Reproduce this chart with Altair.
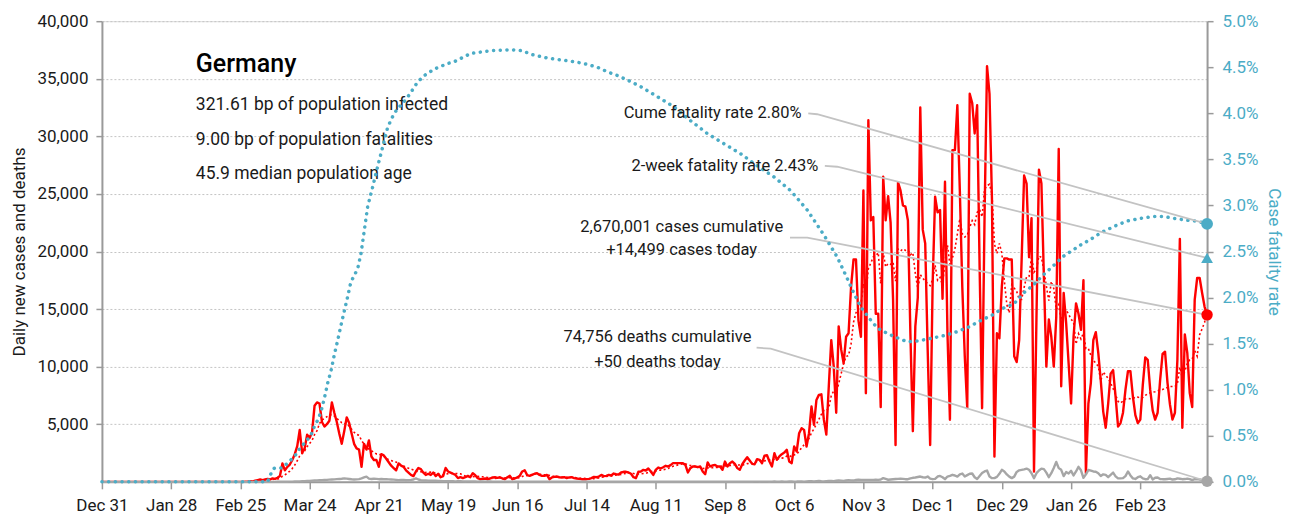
import altair as alt
import pandas as pd

START = pd.Timestamp("2019-12-31")
END = pd.Timestamp("2021-03-22")

# ---- daily new cases, one value per day from Dec 31 2019 ----
cases = [
    0, 0, 0, 0, 0, 0, 0, 0, 0, 0, 0, 0, 0, 0, 0, 0, 0, 0, 0, 0,
    0, 0, 0, 0, 0, 0, 0, 0, 0, 0, 0, 0, 0, 0, 0, 0, 0, 0, 0, 0,
    0, 0, 0, 0, 0, 0, 0, 0, 0, 0, 0, 0, 0, 0, 0, 0,
    0, 0, 20, 30, 50, 40, 100, 150, 200, 150,
    200, 250, 200, 300, 250, 350, 500, 1600, 1000, 1300,
    1500, 1900, 2400, 3100, 4500, 2500, 2900, 4100, 3800, 4300,
    6600, 6900, 6800, 5200, 4800, 5000, 5300, 6900, 6000, 5200,
    4200, 3300, 4400, 5600, 5100, 4200, 3300, 2900, 2800, 1300,
    3300, 2800, 3600, 2200, 1900, 1900, 1300, 2400, 2300, 2000,
    1700, 1400, 1200, 1000, 1600, 1400, 1300, 1000, 800, 600,
    500, 900, 1200, 1100, 800, 600, 700, 600, 800, 500,
    700, 400, 500, 1200, 900,
    800, 700, 600, 320, 400, 320, 400, 520, 400, 750,
    580, 320, 230, 260, 290, 230, 290, 380, 400, 350,
    400, 290, 230, 400, 520, 230, 290, 380, 520, 900,
    1000, 580, 520, 600, 700, 750, 600, 520, 520, 600,
    230, 380, 430, 460, 400, 380, 400, 320, 380, 400,
    320, 290, 260, 230, 230, 230, 260, 320, 430, 400,
    460, 600, 490, 520, 600, 550, 720, 660, 640, 810,
    870, 870, 810, 700, 400, 320, 870, 900, 1040, 980,
    1160, 900, 600, 1040, 1240, 1160, 1270, 1390, 1330, 1450,
    1620, 1620, 1620, 1620, 1620, 1470, 810, 1190, 1330, 1330,
    1270, 1330, 900, 660, 1680, 1330, 1420, 1470, 1330, 1330,
    1040, 1760, 1330, 1620, 1760, 1560, 1190, 1040, 1530, 1850,
    2140, 1850, 1560, 1530, 1970, 1910, 1620, 2280, 2310, 1760,
    1330, 2490, 1910, 2200, 2400, 2540, 2780, 1760, 1620, 3070,
    2630, 4220, 4660, 4510, 3070, 4220, 6540, 4950, 7110, 7550,
    7600, 5400, 4100, 8300, 12300, 10000, 6000, 13500, 11500, 10300,
    12600, 12900, 16900, 19300, 19300, 14000, 12600, 25300, 7700, 31400,
    22700, 23000, 14600, 14600, 6500, 26500, 22700, 24800, 22500, 15800,
    3200, 26000, 25300, 24000, 23900, 22700, 12900, 4400, 13500, 16000,
    32500, 21900, 20700, 11450, 3200, 17200, 24750, 23400, 23600, 15900,
    26060, 12900, 5400, 28800, 28800, 32700, 25300, 16900, 10900, 6400,
    33700, 32900, 30250, 32700, 18700, 6400, 23000, 36100, 33700, 24500,
    2200, 12900, 12460, 17000, 19400, 19400, 19300, 19300, 10900, 10400,
    12300, 19300, 26600, 25900, 19500, 22900, 900, 14300, 27100, 25900,
    17800, 10000, 14100, 12600, 10000, 14300, 28900, 8300, 16400, 13800,
    10300, 6800, 12600, 15500, 14600, 13200, 17500, 750, 6800, 8600,
    12300, 13000, 11200, 8800, 6100, 4700, 6800, 9400, 9700, 7400,
    4800, 5100, 6000, 8000, 9600, 9600, 7400, 5800, 5100, 5400,
    8400, 10800, 10600, 8000, 6200, 5400, 6000, 8800, 11100, 11300,
    8600, 6700, 5400, 6000, 10600, 21100, 4700, 12800, 11200, 7700,
    6500, 15800, 17700, 17700, 16400, 15200, 14499,
]

# ---- daily deaths ----
deaths = [
    0, 0, 0, 0, 0, 0, 0, 0, 0, 0, 0, 0, 0, 0, 0, 0, 0, 0, 0, 0,
    0, 0, 0, 0, 0, 0, 0, 0, 0, 0, 0, 0, 0, 0, 0, 0, 0, 0, 0, 0,
    0, 0, 0, 0, 0, 0, 0, 0, 0, 0, 0, 0, 0, 0, 0, 0, 0, 0, 0, 0,
    0, 0, 0, 0, 0, 0, 0, 0, 0, 0,
    0, 2, 3, 5, 8, 10, 15, 20, 25, 30,
    40, 50, 60, 70, 80, 100, 120, 130, 140, 150,
    160, 170, 190, 200, 210, 230, 250, 270, 300, 280,
    250, 220, 200, 210, 230, 300, 380, 450, 280, 250,
    270, 260, 230, 240, 220, 230, 210, 200, 190, 170,
    150, 160, 170, 140, 150, 170, 200, 300, 200, 140,
    120, 110, 100, 90, 100, 90, 80, 70, 60, 60,
    55,
    50, 45, 40, 60, 50, 40, 30, 35, 40, 30, 25, 20, 30, 25,
    20, 25, 30, 20, 15, 20, 15, 15, 20, 15, 10, 12, 15, 10,
    10, 12, 8, 10, 12, 8, 6, 8, 10, 6, 5, 8, 6, 5,
    6, 8, 5, 4, 6, 5, 4, 5, 6, 4, 3, 5, 4, 3,
    4, 6, 5, 3, 4, 5, 3, 4, 5, 6, 3, 4, 6, 5,
    5, 7, 4, 3, 6, 5, 4, 6, 8, 5, 4, 7, 6, 4,
    5, 8, 6, 4, 7, 9, 5, 6, 9, 7, 4, 8, 10, 6,
    8, 10, 7, 5, 9, 11, 7, 9, 12, 8, 6, 10, 13, 8,
    10, 14, 9, 7, 12, 15, 10, 12, 16, 11, 8, 14, 18, 12,
    15, 20, 14, 10, 18, 24, 16, 20, 28, 18, 14, 25, 32, 22,
    28, 40, 30, 20, 35, 50, 45, 38, 55, 70, 50, 40, 65, 85,
    75, 60, 90, 120, 100, 80, 115, 150, 130, 110, 160, 190, 170,
    170, 170, 170, 170, 170, 180, 170, 200, 320, 250,
    180, 200, 220, 240, 260, 280, 260, 230, 230, 300,
    350, 380, 420, 460, 400, 370, 460, 280, 230, 260,
    460, 510, 400, 230, 460, 520, 610, 550, 450, 650,
    720, 460, 580, 700, 720, 400, 250, 500, 760, 900,
    980, 460, 320, 320, 430, 700, 1040, 900, 640, 450,
    320, 450, 860, 1000, 1040, 1080, 1150, 1050, 750, 320,
    750, 980, 1150, 1100, 800, 400, 750, 1200, 1730, 1190,
    1040, 500, 850, 720, 950, 550, 900, 1300, 1000, 350,
    650, 1040, 980, 900, 880, 750, 500, 650, 600, 400,
    600, 800, 480, 300, 300, 320, 500, 900, 550, 300,
    250, 400, 480, 300, 230, 240, 580, 200, 350, 380,
    250, 230, 220, 250, 280, 200, 220, 300, 270, 230,
    240, 280, 240, 150, 230, 230, 200, 170, 120, 50,
]

# ---- case fatality rate (day offset, percent) ----
cfr_day = [
    0, 67, 68.7, 69.8, 72.5, 73.8, 75.2, 76.5, 77.8, 79.2,
    80.5, 81.9, 83.2, 84.6, 85.9, 87.3, 88.6, 90, 91.3, 92.7,
    94, 95.4, 96.7, 98, 99.4, 100.7, 102.1, 103.5, 104.8, 107.5,
    109.5, 111.5, 113.6, 115.6, 118.2, 120.3, 123, 125, 127.7, 130.4,
    134.4, 139.8, 142.5, 149.2, 157.3, 165.4, 170.1, 173.5, 180.2, 185.6,
    191, 195, 200.4, 204.5, 208.5, 212.6, 217.9, 224.7, 231.4, 238.1,
    244.9, 251.6, 258.4, 265.1, 271.8, 278.6, 285.3, 292, 297.4, 299.5,
    302.1, 304.1, 306.9, 310.2, 313.6, 317, 321, 325.7, 330.4, 335.8,
    341.2, 345.9, 350.6, 355.4, 360.1, 364.1, 368.8, 372.8, 376.9, 380.9,
    385, 389, 395.8, 399.8, 403.8, 409.2, 414.6, 420, 425.4, 429.4,
    433.5, 438.9, 442.9, 447,
]
cfr_pct = [
    0, 0, 0.11, 0.15, 0.15, 0.18, 0.20, 0.24, 0.27, 0.33,
    0.38, 0.42, 0.46, 0.51, 0.60, 0.67, 0.76, 0.91, 1.07, 1.21,
    1.38, 1.54, 1.70, 1.85, 2.01, 2.17, 2.24, 2.32, 2.48, 2.99,
    3.20, 3.42, 3.64, 3.85, 4.00, 4.07, 4.15, 4.23, 4.34, 4.41,
    4.48, 4.54, 4.56, 4.65, 4.68, 4.69, 4.68, 4.64, 4.60, 4.58,
    4.56, 4.54, 4.50, 4.45, 4.41, 4.36, 4.29, 4.18, 4.07, 3.92,
    3.78, 3.67, 3.56, 3.43, 3.31, 3.16, 2.95, 2.68, 2.44, 2.32,
    2.17, 2.05, 1.90, 1.78, 1.67, 1.62, 1.57, 1.52, 1.53, 1.56,
    1.59, 1.63, 1.68, 1.75, 1.81, 1.88, 1.93, 2.05, 2.14, 2.25,
    2.35, 2.45, 2.57, 2.63, 2.70, 2.77, 2.83, 2.86, 2.88, 2.88,
    2.86, 2.84, 2.83, 2.80,
]

# ---- headline numbers ----
country = "Germany"
info_lines = ["321.61 bp of population infected",
              "9.00 bp of population fatalities",
              "45.9 median population age"]
cume_cfr = 2.80
two_week_cfr = 2.43
cases_today = 14499
deaths_today = 50
cases_text = ["2,670,001 cases cumulative", "+14,499 cases today"]
deaths_text = ["74,756 deaths cumulative", "+50 deaths today"]

tick_dates = ["2019-12-31", "2020-01-28", "2020-02-25", "2020-03-24", "2020-04-21",
              "2020-05-19", "2020-06-16", "2020-07-14", "2020-08-11", "2020-09-08",
              "2020-10-06", "2020-11-03", "2020-12-01", "2020-12-29", "2021-01-26",
              "2021-02-23"]
left_ticks = [5000, 10000, 15000, 20000, 25000, 30000, 35000, 40000]
right_ticks = [0, 0.005, 0.01, 0.015, 0.02, 0.025, 0.03, 0.035, 0.04, 0.045, 0.05]

# ---------------------------------------------------------------
FONT = "Roboto"
RED = "#ff0000"
GREY = "#a6a6a6"
BLUE = "#4bacc6"
LEADER = "#c3c3c3"
TXT = "#1a1a1a"
AX = "#9a9a9a"


def dt(s):
    t = pd.Timestamp(s)
    return alt.DateTime(year=t.year, month=t.month, date=t.day)


def day(d):
    return START + pd.Timedelta(days=d)


df = pd.DataFrame({"date": pd.date_range(START, periods=len(cases), freq="D"),
                   "cases": cases, "deaths": deaths})
cfr_df = pd.DataFrame({"date": [day(d) for d in cfr_day],
                       "cfr": [p / 100 for p in cfr_pct]})

x_axis = alt.Axis(values=[dt(s) for s in tick_dates], format="%b %-d", title=None,
                  labelFontSize=17, labelColor=TXT, labelPadding=9, labelOverlap=False,
                  labelFlush=False,
                  domainColor=AX, domainWidth=2, tickColor=AX,
                  tickSize=7, tickWidth=1.5, grid=False, labelFont=FONT)
x_scale = alt.Scale(domain=[dt(START), dt(END)])


def X(field="date"):
    return alt.X(f"{field}:T", scale=x_scale, axis=x_axis)


left_axis = alt.Axis(values=left_ticks, labelExpr="format(datum.value, ',')",
                     title="Daily new cases and deaths", titleFontSize=17,
                     titleFontWeight="normal", titleColor=TXT, titleFont=FONT,
                     titlePadding=8,
                     labelFontSize=17, labelColor=TXT, labelFont=FONT, labelPadding=8,
                     domainColor=AX, domainWidth=2, tickColor=AX,
                     tickSize=6, tickWidth=1.5,
                     grid=True, gridColor="#c4c4c4", gridDash=[2, 2], gridWidth=1)
left_scale = alt.Scale(domain=[0, 40000], nice=False)


def YL(field):
    return alt.Y(f"{field}:Q", scale=left_scale, axis=left_axis)


right_axis = alt.Axis(orient="right", values=right_ticks,
                      labelExpr="format(datum.value, '.1%')",
                      title="Case fatality rate", titleFontSize=17, titleFontWeight="normal",
                      titleColor=BLUE, titleFont=FONT, titlePadding=6,
                      labelFontSize=17, labelColor=BLUE, labelFont=FONT, labelPadding=9,
                      domainColor=AX, domainWidth=2, tickColor=AX,
                      tickSize=6, tickWidth=1.5, grid=False)
right_scale = alt.Scale(domain=[0, 0.05], nice=False)


def YR(field):
    return alt.Y(f"{field}:Q", scale=right_scale, axis=right_axis)


# ---- left (cases / deaths) layer ----
base = alt.Chart(df)
cases_line = base.mark_line(color=RED, strokeWidth=2.4, strokeJoin="round").encode(
    x=X(), y=YL("cases"))
avg_line = base.transform_window(
    avg="mean(cases)", frame=[-6, 0], sort=[alt.SortField("date")]
).mark_line(color=RED, strokeWidth=1.6, strokeDash=[2, 2.5]).encode(x=X(), y=YL("avg"))
deaths_line = base.mark_line(color=GREY, strokeWidth=2.4, strokeJoin="round").encode(
    x=X(), y=YL("deaths"))

lead_left = pd.DataFrame({
    "g": ["c", "c", "c", "d", "d", "d"],
    "o": [0, 1, 2, 0, 1, 2],
    "date": [day(278.3), day(285.3), END, day(264.8), day(270.5), END],
    "v": [21200, 21200, cases_today, 11650, 11560, deaths_today],
})
lead_left_mark = alt.Chart(lead_left).mark_line(color=LEADER, strokeWidth=1.8).encode(
    x=X(), y=YL("v"), detail="g:N", order="o:Q")

end_left = pd.DataFrame({"date": [END, END], "v": [cases_today, deaths_today],
                         "kind": ["cases", "deaths"]})
end_left_mark = alt.Chart(end_left).mark_point(filled=True, size=130, opacity=1).encode(
    x=X(), y=YL("v"),
    color=alt.Color("kind:N", scale=alt.Scale(domain=["cases", "deaths"], range=[RED, GREY]),
                    legend=None))

note_left = pd.DataFrame({
    "date": [day(234.5), day(234.5), day(224.7), day(224.7)],
    "v": [22150, 20130, 12610, 10440],
    "t": cases_text + deaths_text,
})
note_left_mark = alt.Chart(note_left).mark_text(
    align="center", baseline="middle", fontSize=16.5, font=FONT, color=TXT).encode(
    x=X(), y=YL("v"), text="t:N")

title_mark = alt.Chart(pd.DataFrame({"t": [country]})).mark_text(
    align="left", baseline="middle", fontSize=25, fontWeight=500, font=FONT,
    color="#000000").encode(x=alt.value(94), y=alt.value(43), text="t:N")
info_marks = [
    alt.Chart(pd.DataFrame({"t": [line]})).mark_text(
        align="left", baseline="middle", fontSize=17.5, font=FONT, color=TXT).encode(
        x=alt.value(94), y=alt.value(yy), text="t:N")
    for line, yy in zip(info_lines, [84, 119, 153])
]

left = alt.layer(cases_line, avg_line, deaths_line, lead_left_mark, end_left_mark,
                 note_left_mark, title_mark, *info_marks)

# ---- right (fatality rate) layer ----
cfr_line = alt.Chart(cfr_df).mark_line(
    color=BLUE, strokeWidth=3.5, strokeDash=[0.1, 6.6], strokeCap="round").encode(
    x=X(), y=YR("cfr"))

lead_right = pd.DataFrame({
    "g": ["a", "a", "a", "b", "b", "b"],
    "o": [0, 1, 2, 0, 1, 2],
    "date": [day(285.7), day(289.3), END, day(292.4), day(297.4), END],
    "v": [0.0400, 0.0399, cume_cfr / 100, 0.0343, 0.0342, two_week_cfr / 100],
})
lead_right_mark = alt.Chart(lead_right).mark_line(color=LEADER, strokeWidth=1.8).encode(
    x=X(), y=YR("v"), detail="g:N", order="o:Q")

end_right = pd.DataFrame({"date": [END, END], "v": [cume_cfr / 100, two_week_cfr / 100],
                          "kind": ["cume", "two"]})
end_right_mark = alt.Chart(end_right).mark_point(filled=True, size=140, opacity=1,
                                                  color=BLUE).encode(
    x=X(), y=YR("v"),
    shape=alt.Shape("kind:N", scale=alt.Scale(domain=["cume", "two"],
                                              range=["circle", "triangle-up"]), legend=None))

note_right = pd.DataFrame({
    "date": [day(283.0), day(289.8)],
    "v": [0.0400, 0.0343],
    "t": [f"Cume fatality rate {cume_cfr:.2f}%", f"2-week fatality rate {two_week_cfr:.2f}%"],
})
note_right_mark = alt.Chart(note_right).mark_text(
    align="right", baseline="middle", fontSize=16.5, font=FONT, color=TXT).encode(
    x=X(), y=YR("v"), text="t:N")

right = alt.layer(cfr_line, lead_right_mark, end_right_mark, note_right_mark)

chart = alt.layer(left, right).resolve_scale(y="independent").properties(
    width=1106, height=461, padding={"left": 2, "top": 4, "right": 6, "bottom": 0}
).configure_view(stroke=None).configure(font=FONT)

chart.save("out.html", embed_options={"renderer": "svg", "actions": False})
